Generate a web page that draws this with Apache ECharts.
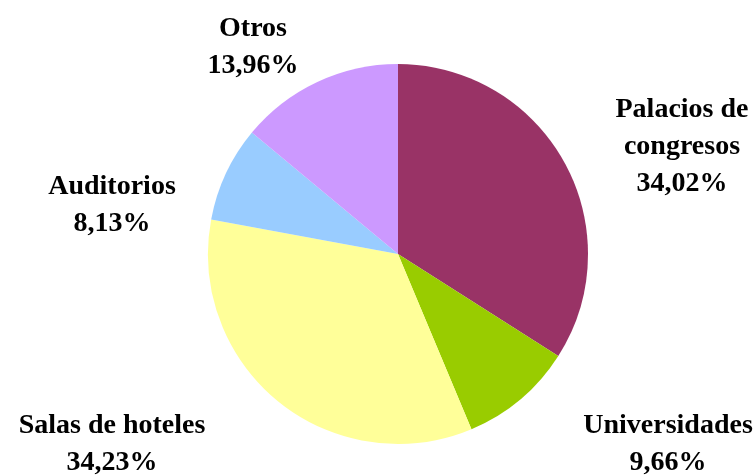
<!DOCTYPE html>
<html><head><meta charset="utf-8">
<script src="https://cdn.jsdelivr.net/npm/echarts@6/dist/echarts.min.js"></script>
<style>html,body{margin:0;padding:0;background:#fff}#c{width:755px;height:475px}</style>
</head><body><div id="c"></div>
<script>
const categories = ['Palacios de\ncongresos', 'Universidades', 'Salas de hoteles', 'Auditorios', 'Otros'];
const values = [34.02, 9.66, 34.23, 8.13, 13.96];
const colors = ['#993366', '#99CC00', '#FFFF99', '#99CCFF', '#CC99FF'];
const labelSpots = [[682, 147], [668, 444], [112, 444], [112, 205], [253, 47]];

const chart = echarts.init(document.getElementById('c'), null, {renderer: 'canvas'});
chart.setOption({
  animation: false,
  backgroundColor: '#fff',
  series: [{
    type: 'pie',
    center: [398, 254],
    radius: 190,
    startAngle: 90,
    clockwise: true,
    avoidLabelOverlap: false,
    data: categories.map((n, i) => ({name: n, value: values[i], itemStyle: {color: colors[i]}})),
    label: {
      show: true,
      position: 'outside',
      overflow: 'none',
      formatter: p => p.name + '\n' + p.value.toFixed(2).replace('.', ',') + '%',
      fontFamily: '"Liberation Serif", "Times New Roman", serif',
      fontWeight: 'bold',
      fontSize: 28,
      lineHeight: 37,
      color: '#000',
      align: 'center'
    },
    labelLine: {show: false},
    labelLayout: p => ({x: labelSpots[p.dataIndex][0], y: labelSpots[p.dataIndex][1], align: 'center', verticalAlign: 'middle'}),
    itemStyle: {borderWidth: 0}
  }]
});
</script></body></html>
